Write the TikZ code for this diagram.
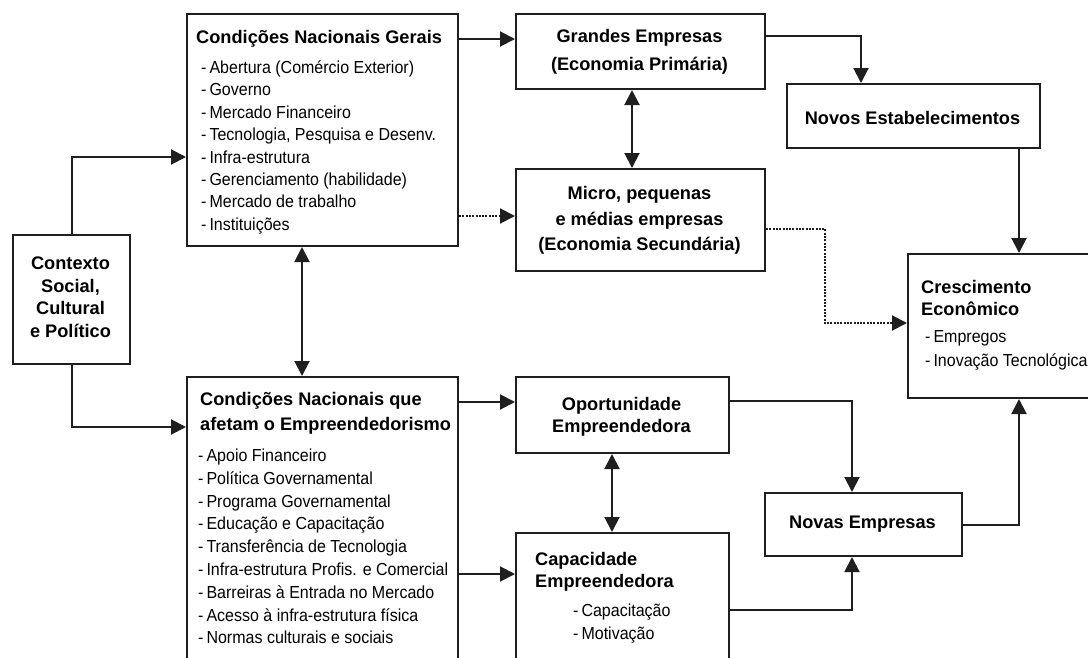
\documentclass[tikz,border=0pt]{standalone}
\usepackage{fontspec}
\setmainfont{Liberation Sans}
\newfontfamily\itemfont[FakeStretch=0.92]{Liberation Sans}
\usetikzlibrary{arrows.meta}
\newcommand\itmdash{-\hspace{3pt}}
\begin{document}
\begin{tikzpicture}[x=1pt,y=-1pt,
  box/.style={draw=black!88, line width=2pt, rectangle, inner sep=0pt, fill=white, anchor=north west},
  ttl/.style={font=\fontsize{18.2}{22}\selectfont\bfseries, inner sep=0pt},
  itm/.style={font=\itemfont\fontsize{17.4}{21}\selectfont, inner sep=0pt, anchor=base west},
  conn/.style={draw=black!88, line width=2pt},
  arr/.style={conn, -{Triangle[length=15pt,width=15pt]}},
  darr/.style={conn, {Triangle[length=15pt,width=15pt]}-{Triangle[length=15pt,width=15pt]}},
  dotarr/.style={arr, dash pattern=on 2pt off 1.3pt}]
\useasboundingbox (0,0) rectangle (1088,657);
\fill[white] (0,0) rectangle (1088,657);
\begin{scope}
\clip (0,0) rectangle (1088,657);
% boxes
\node[box, minimum width=117pt, minimum height=129pt] (ctx) at (12,234) {};
\node[box, minimum width=271pt, minimum height=232pt] (cng) at (186,13) {};
\node[box, minimum width=271pt, minimum height=330pt] (cng2) at (186,376) {};
\node[box, minimum width=249pt, minimum height=75pt] (ge) at (515,13) {};
\node[box, minimum width=249pt, minimum height=102pt] (mpe) at (515,168) {};
\node[box, minimum width=253pt, minimum height=64pt] (ne) at (786,83) {};
\node[box, minimum width=250pt, minimum height=144pt] (ce) at (907,253) {};
\node[box, minimum width=213pt, minimum height=76pt] (oe) at (515,376) {};
\node[box, minimum width=213pt, minimum height=200pt] (cap) at (515,532) {};
\node[box, minimum width=197pt, minimum height=63pt] (ne2) at (764,492) {};
% texts
\node[ttl, anchor=base] (ctx1) at (70.5,269) {Contexto};
\node[ttl, anchor=base] (ctx2) at (70.5,292) {Social,};
\node[ttl, anchor=base] (ctx3) at (70.5,314.5) {Cultural};
\node[ttl, anchor=base] (ctx4) at (70.5,337) {e Político};
\node[ttl, anchor=base west] (cngt) at (196,43) {Condições Nacionais Gerais};
\foreach \t [count=\i] in {Abertura (Comércio Exterior), Governo, Mercado Financeiro,
  {Tecnologia, Pesquisa e Desenv.}, Infra-estrutura, Gerenciamento (habilidade),
  Mercado de trabalho, Instituições}
  \node[itm] (cngi\i) at (201,{73.5+22.4*(\i-1)}) {\itmdash\t};
\node[ttl, anchor=base west] (cng2t1) at (200,405.5) {Condições Nacionais que};
\node[ttl, anchor=base west] (cng2t2) at (200,430.5) {afetam o Empreendedorismo};
\foreach \t [count=\i] in {Apoio Financeiro, Política Governamental, Programa Governamental,
  Educação e Capacitação, Transferência de Tecnologia, Infra-estrutura Profis. e Comercial,
  Barreiras à Entrada no Mercado, Acesso à infra-estrutura física, Normas culturais e sociais}
  \node[itm] (cng2i\i) at (198,{461.5+22.8*(\i-1)}) {\itmdash\t};
\node[ttl, anchor=base] (ge1) at (639.5,42.7) {Grandes Empresas};
\node[ttl, anchor=base] (ge2) at (639.5,70.7) {(Economia Primária)};
\node[ttl, anchor=base] (mpe1) at (639.5,199) {Micro, pequenas};
\node[ttl, anchor=base] (mpe2) at (639.5,225) {e médias empresas};
\node[ttl, anchor=base] (mpe3) at (639.5,250.5) {(Economia Secundária)};
\node[ttl, anchor=base] (ne1) at (912.5,124) {Novos Estabelecimentos};
\node[ttl, anchor=base west] (ce1) at (921,293.3) {Crescimento};
\node[ttl, anchor=base west] (ce2) at (921,315) {Econômico};
\node[itm] (cei1) at (925,342.5) {\itmdash Empregos};
\node[itm] (cei2) at (925,366.7) {\itmdash Inovação Tecnológica};
\node[ttl, anchor=base] (oe1) at (621.5,410) {Oportunidade};
\node[ttl, anchor=base] (oe2) at (621.5,432.7) {Empreendedora};
\node[ttl, anchor=base west] (cap1) at (535,565) {Capacidade};
\node[ttl, anchor=base west] (cap2) at (535,587.5) {Empreendedora};
\node[itm] (capi1) at (573,616) {\itmdash Capacitação};
\node[itm] (capi2) at (573,639) {\itmdash Motivação};
\node[ttl, anchor=base] (ne2t) at (862.5,528) {Novas Empresas};
% helper coordinates
\coordinate (mpeIn) at ([yshift=-48pt]mpe.north west);
\coordinate (neOut) at ([xshift=233pt]ne.south west);
\coordinate (ceIn) at ([yshift=-70pt]ce.north west);
\coordinate (capIn) at ([yshift=-42pt]cap.north west);
% connectors
\draw[arr] (ctx.north) |- ([yshift=-144pt]cng.north west);
\draw[arr] (ctx.south) |- ([yshift=-51pt]cng2.north west);
\draw[darr] ([xshift=116pt]cng.south west) -- ([xshift=116pt]cng2.north west);
\draw[arr] ([yshift=-26pt]cng.north east) -- ([yshift=-26pt]ge.north west);
\draw[dotarr] (cng.east |- mpeIn) -- (mpeIn);
\draw[darr] ([xshift=117pt]ge.south west) -- ([xshift=117pt]mpe.north west);
\draw[arr] ([yshift=-23pt]ge.north east) -| ([xshift=75pt]ne.north west);
\draw[arr] (neOut) -- (neOut |- ce.north);
\draw[dotarr] ([yshift=-61pt]mpe.north east) -- ++(59,0) |- (ceIn);
\draw[arr] ([yshift=-26pt]cng2.north east) -- ([yshift=-26pt]oe.north west);
\draw[arr] (cng2.east |- capIn) -- (capIn);
\draw[darr] ([xshift=97pt]oe.south west) -- ([xshift=97pt]cap.north west);
\draw[arr] ([yshift=-25pt]oe.north east) -| ([xshift=88pt]ne2.north west);
\draw[arr] ([yshift=-78pt]cap.north east) -| ([xshift=88pt]ne2.south west);
\draw[arr] (ne2.east) -| (neOut |- ce.south);
\end{scope}
\end{tikzpicture}
\end{document}
